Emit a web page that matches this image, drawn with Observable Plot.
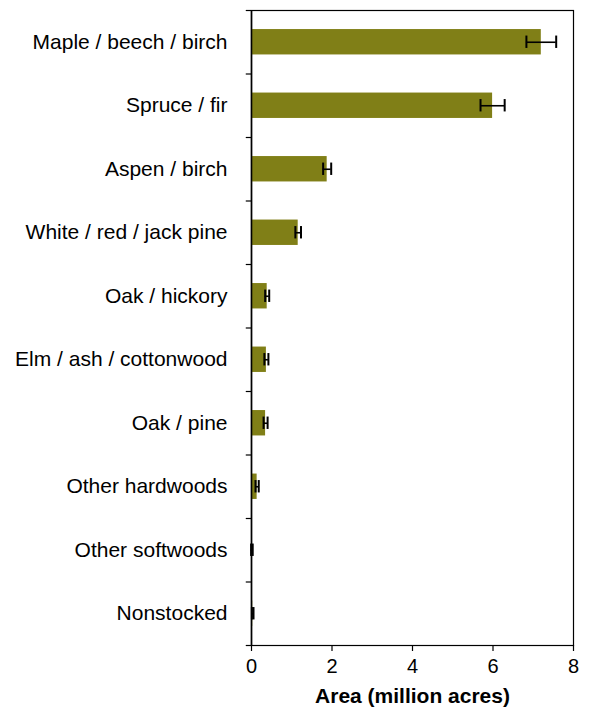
<!DOCTYPE html>
<html><head><meta charset="utf-8">
<script src="https://cdn.jsdelivr.net/npm/d3@7"></script>
<script src="https://cdn.jsdelivr.net/npm/@observablehq/plot@0.6"></script>
<style>body{margin:0;background:#fff;font-family:"Liberation Sans",Arial,sans-serif}</style>
</head><body><div id="chart"></div>
<script>
const categories = ["Maple / beech / birch","Spruce / fir","Aspen / birch","White / red / jack pine","Oak / hickory","Elm / ash / cottonwood","Oak / pine","Other hardwoods","Other softwoods","Nonstocked"];
const areas = [7.2, 5.99, 1.88, 1.16, 0.39, 0.37, 0.35, 0.14, 0.01, 0.03];
const errors = [0.37, 0.3, 0.1, 0.07, 0.05, 0.05, 0.05, 0.04, 0.02, 0.02];
const xTicks = [0, 2, 4, 6, 8];

const data = categories.map((c, i) => ({cat: c, v: areas[i], e: errors[i]}));
const step = (645 - 10) / categories.length;

const chart = Plot.plot({
  width: 591, height: 714,
  marginLeft: 251, marginRight: 18, marginTop: 10, marginBottom: 69,
  style: {fontFamily: "Liberation Sans, Arial, sans-serif", fontSize: "20px", color: "#000"},
  x: {domain: [0, 8], ticks: xTicks},
  y: {domain: categories, paddingInner: 0.6, paddingOuter: 0.3, align: 0.5, round: false},
  marks: [
    Plot.frame({stroke: "#000", strokeWidth: 1.2}),
    Plot.barX(data, {x: "v", y: "cat", fill: "#807f17"}),
    Plot.ruleY(data, {y: "cat", x1: d => d.v - d.e, x2: d => d.v + d.e, stroke: "#000", strokeWidth: 1.6}),
    Plot.tickX(data, {y: "cat", x: d => d.v - d.e, stroke: "#000", strokeWidth: 2, insetTop: 6.5, insetBottom: 6.5}),
    Plot.tickX(data, {y: "cat", x: d => d.v + d.e, stroke: "#000", strokeWidth: 2, insetTop: 6.5, insetBottom: 6.5}),
    Plot.ruleY(data, {y: "cat", x1: -0.13, x2: 0, dy: step / 2, stroke: "#000", strokeWidth: 1.2}),
    Plot.ruleY(data.slice(0, 1), {y: "cat", x1: -0.13, x2: 0, dy: -step / 2, stroke: "#000", strokeWidth: 1.2}),
    Plot.ruleX([0], {stroke: "#000", strokeWidth: 1.6}),
    Plot.axisY({tickSize: 0, tickPadding: 24, fontSize: 21, label: null}),
    Plot.axisX({ticks: xTicks, tickSize: 6, tickPadding: 7, fontSize: 20, label: null, strokeWidth: 1.2}),
    Plot.text(["Area (million acres)"], {frameAnchor: "bottom", dy: 57, fontWeight: "bold", fontSize: 21})
  ]
});
document.getElementById("chart").append(chart);
</script></body></html>
